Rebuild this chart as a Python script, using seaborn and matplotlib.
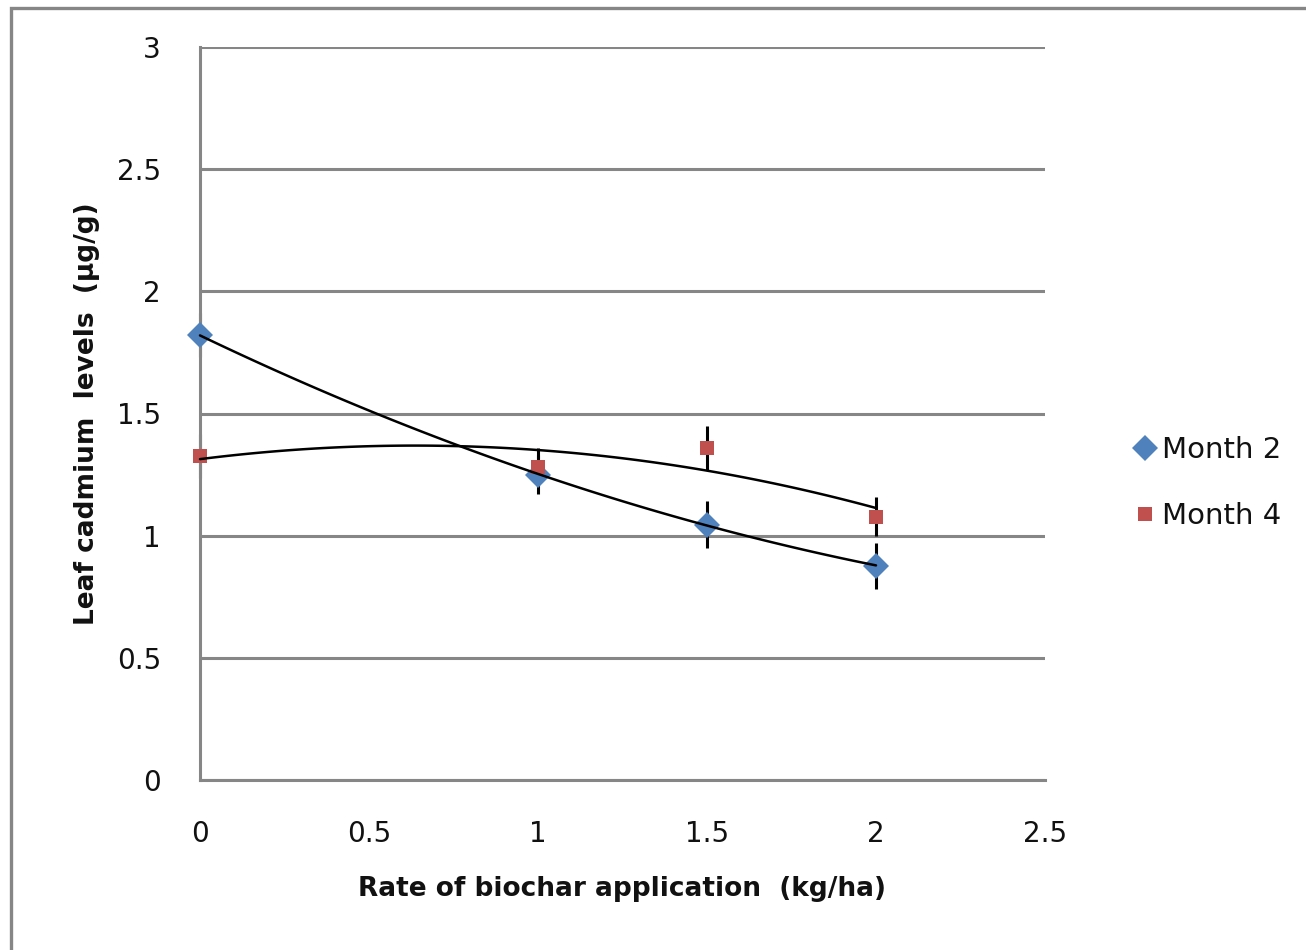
import numpy as np
import pandas as pd
import matplotlib
matplotlib.use("Agg")
import matplotlib.pyplot as plt
from matplotlib.lines import Line2D
from matplotlib.patches import Rectangle
import seaborn as sns

# Biochar application rate (kg/ha)
rates = [0, 1, 1.5, 2]
# Leaf cadmium (µg/g) with standard errors
month2 = [1.82, 1.25, 1.045, 0.877]
month2_err = [0.09, 0.08, 0.095, 0.095]
month4 = [1.325, 1.28, 1.36, 1.078]
month4_err = [0.09, 0.08, 0.09, 0.08]
series_names = ["Month 2", "Month 4"]
yticks = [0, 0.5, 1, 1.5, 2, 2.5, 3]
xticks = [0, 0.5, 1, 1.5, 2, 2.5]
ytick_labels = ["0", "0.5", "1", "1.5", "2", "2.5", "3"]
xtick_labels = ["0", "0.5", "1", "1.5", "2", "2.5"]

df = pd.DataFrame({
    "rate": rates * 2,
    "cd": month2 + month4,
    "err": month2_err + month4_err,
    "series": [series_names[0]] * len(rates) + [series_names[1]] * len(rates),
})

sns.set_theme(style="white")
plt.rcParams["font.family"] = ["DejaVu Sans"]

BLUE = "#4F81BD"
RED = "#C0504D"
GRID = "#868686"
TXT = "#111111"

fig = plt.figure(figsize=(13.06, 9.5), dpi=100)
fig.patch.set_facecolor("white")
ax = fig.add_axes([200 / 1306, 1 - 780 / 950, 845 / 1306, 733 / 950])

palette = {series_names[0]: BLUE, series_names[1]: RED}
markers = {series_names[0]: "D", series_names[1]: "s"}
sizes = {series_names[0]: 13, series_names[1]: 10}

for name in series_names:
    sub = df[df["series"] == name]
    ax.errorbar(sub["rate"], sub["cd"], yerr=sub["err"], fmt="none",
                ecolor="black", elinewidth=2.2, capsize=0, zorder=2,
                clip_on=False)
    ax.plot(sub["rate"], sub["cd"], linestyle="none", marker=markers[name],
            markersize=sizes[name], markerfacecolor=palette[name],
            markeredgewidth=0, zorder=3, clip_on=False)
    # Second-order polynomial trendline
    sns.regplot(data=sub, x="rate", y="cd", order=2, ci=None, scatter=False,
                truncate=True, ax=ax,
                line_kws={"color": "black", "linewidth": 1.8, "zorder": 4,
                          "clip_on": False})

ax.set_xlim(0, 2.5)
ax.set_ylim(0, 3)
ax.set_xticks(xticks)
ax.set_xticklabels(xtick_labels)
ax.set_yticks(yticks)
ax.set_yticklabels(ytick_labels)
ax.tick_params(axis="both", length=0, labelsize=20, labelcolor=TXT)
ax.tick_params(axis="y", pad=28)
ax.tick_params(axis="x", pad=29)

ax.grid(axis="y", color=GRID, linewidth=2.2)
ax.grid(axis="x", visible=False)
for side in ["top", "right"]:
    ax.spines[side].set_visible(False)
for side in ["left", "bottom"]:
    ax.spines[side].set_color(GRID)
    ax.spines[side].set_linewidth(2.2)
ax.set_axisbelow(True)

ax.set_xlabel("Rate of biochar application  (kg/ha)", fontsize=19,
              fontweight="bold", color=TXT, labelpad=20)
ax.set_ylabel("Leaf cadmium  levels  (µg/g)", fontsize=19,
              fontweight="bold", color=TXT, labelpad=12)

handles = [
    Line2D([], [], linestyle="none", marker=markers[n], markersize=sizes[n],
           markerfacecolor=palette[n], markeredgewidth=0)
    for n in series_names
]
fig.legend(handles, series_names, loc="center left",
           bbox_to_anchor=(1110 / 1306, 1 - 483 / 950), frameon=False,
           fontsize=21, labelspacing=1.3, handlelength=0.6,
           handletextpad=0.3, labelcolor=TXT)

# Chart-area border
fig.patches.append(Rectangle((11 / 1306, -0.1), 1.2, 1 - 8 / 950 + 0.1,
                             transform=fig.transFigure, fill=False,
                             edgecolor=GRID, linewidth=2.4, zorder=0))

fig.savefig("out.png", dpi=100, facecolor="white")
